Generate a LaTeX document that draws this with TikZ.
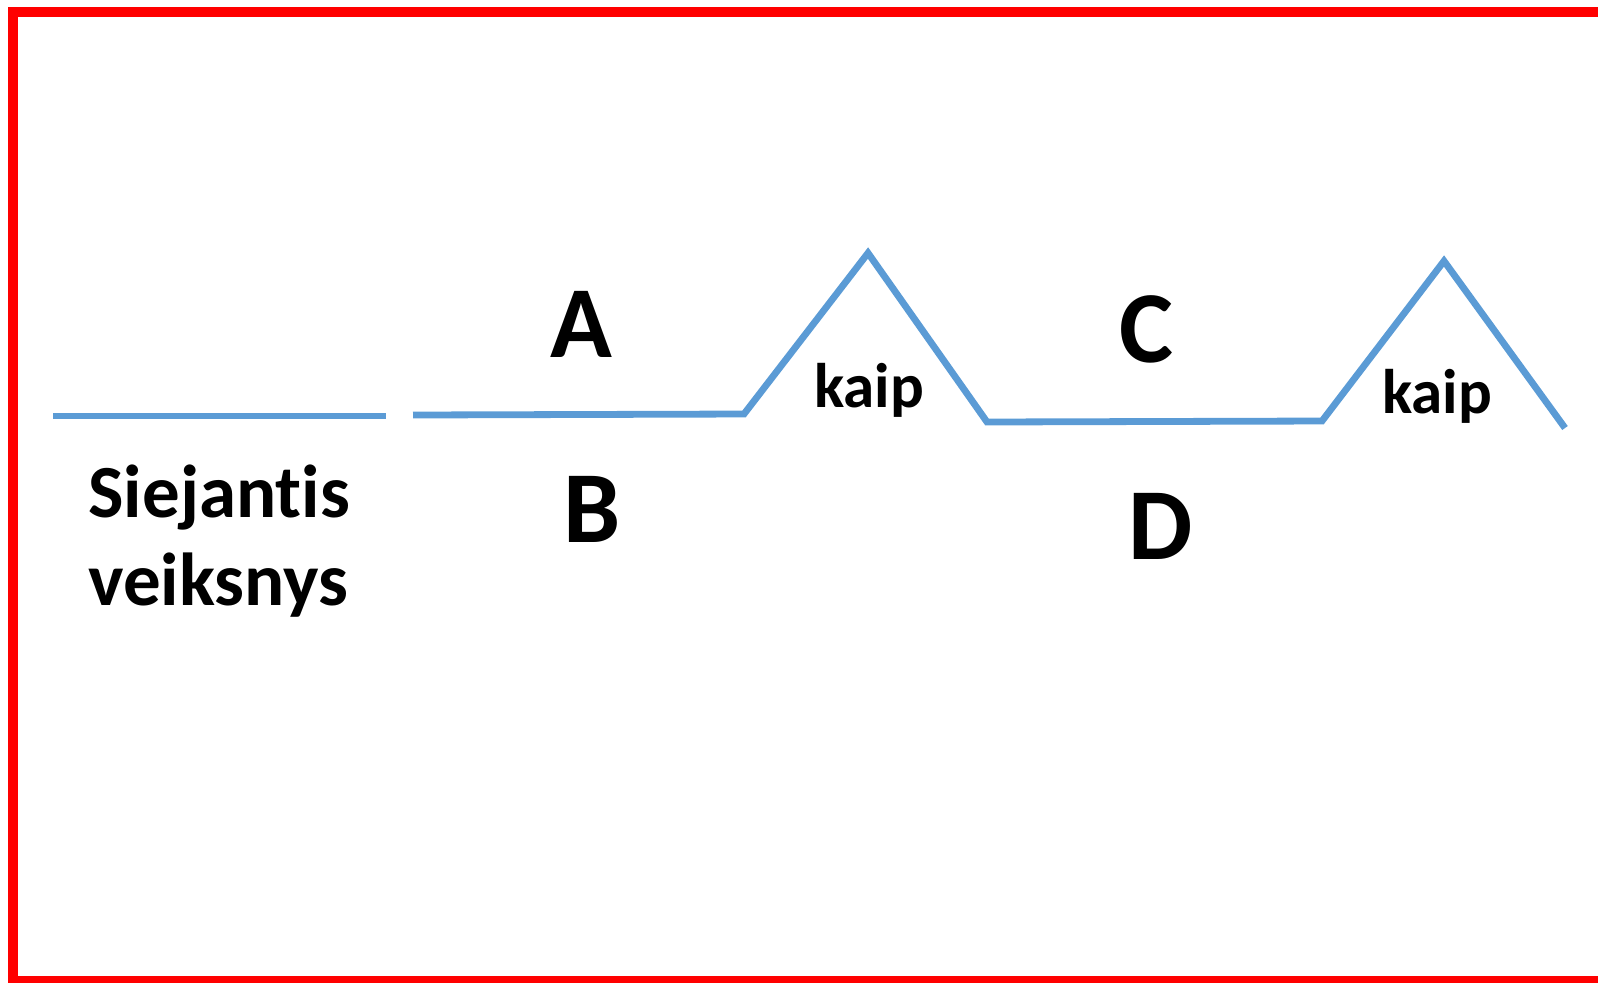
\documentclass[tikz,border=0pt]{standalone}
\usepackage{fontspec}
\setmainfont{Carlito}[Ligatures=NoCommon]
\definecolor{linkblue}{RGB}{91,155,213}
\definecolor{framered}{RGB}{255,0,0}
\begin{document}
\begin{tikzpicture}[x=0.5pt,y=-0.5pt,
  frame/.style={draw=framered,line width=5pt},
  diagline/.style={draw=linkblue,line width=3.4pt},
  bigletter/.style={font=\fontsize{51}{60}\selectfont\bfseries,inner sep=0pt,anchor=base},
  smallword/.style={font=\fontsize{31.5}{37}\selectfont\bfseries,inner sep=0pt,anchor=base},
  sidelabel/.style={font=\fontsize{37.5}{44}\selectfont\bfseries,inner sep=0pt,anchor=base west,align=left}]
\useasboundingbox (0,0) rectangle (1598,982);
\clip (0,0) rectangle (1598,982);
\draw[frame] (13,11.5) rectangle (1630,981);
% line 1
\coordinate (l1a) at (53,416);
\coordinate (l1b) at (386,416);
\draw[diagline] (l1a) -- (l1b);
% line 2
\coordinate (p0) at (413,415);
\coordinate (p1) at (744,414);
\coordinate (p2) at (868,253);
\coordinate (p3) at (987,422);
\coordinate (p4) at (1322,421);
\coordinate (p5) at (1444,261);
\coordinate (p6) at (1565,428);
\draw[diagline] (p0) -- (p1) -- (p2) -- (p3) -- (p4) -- (p5) -- (p6);
% labels
\node[bigletter] (A) at (581,357) {A};
\node[bigletter] (B) at (592,542) {B};
\node[bigletter] (C) at (1146,362) {C};
\node[bigletter] (D) at (1161,559) {D};
\node[smallword] (k1) at (869,407) {kaip};
\node[smallword] (k2) at (1437,413) {kaip};
\node[sidelabel] (S) at (88,605) {Siejantis\\veiksnys};
\end{tikzpicture}
\end{document}
